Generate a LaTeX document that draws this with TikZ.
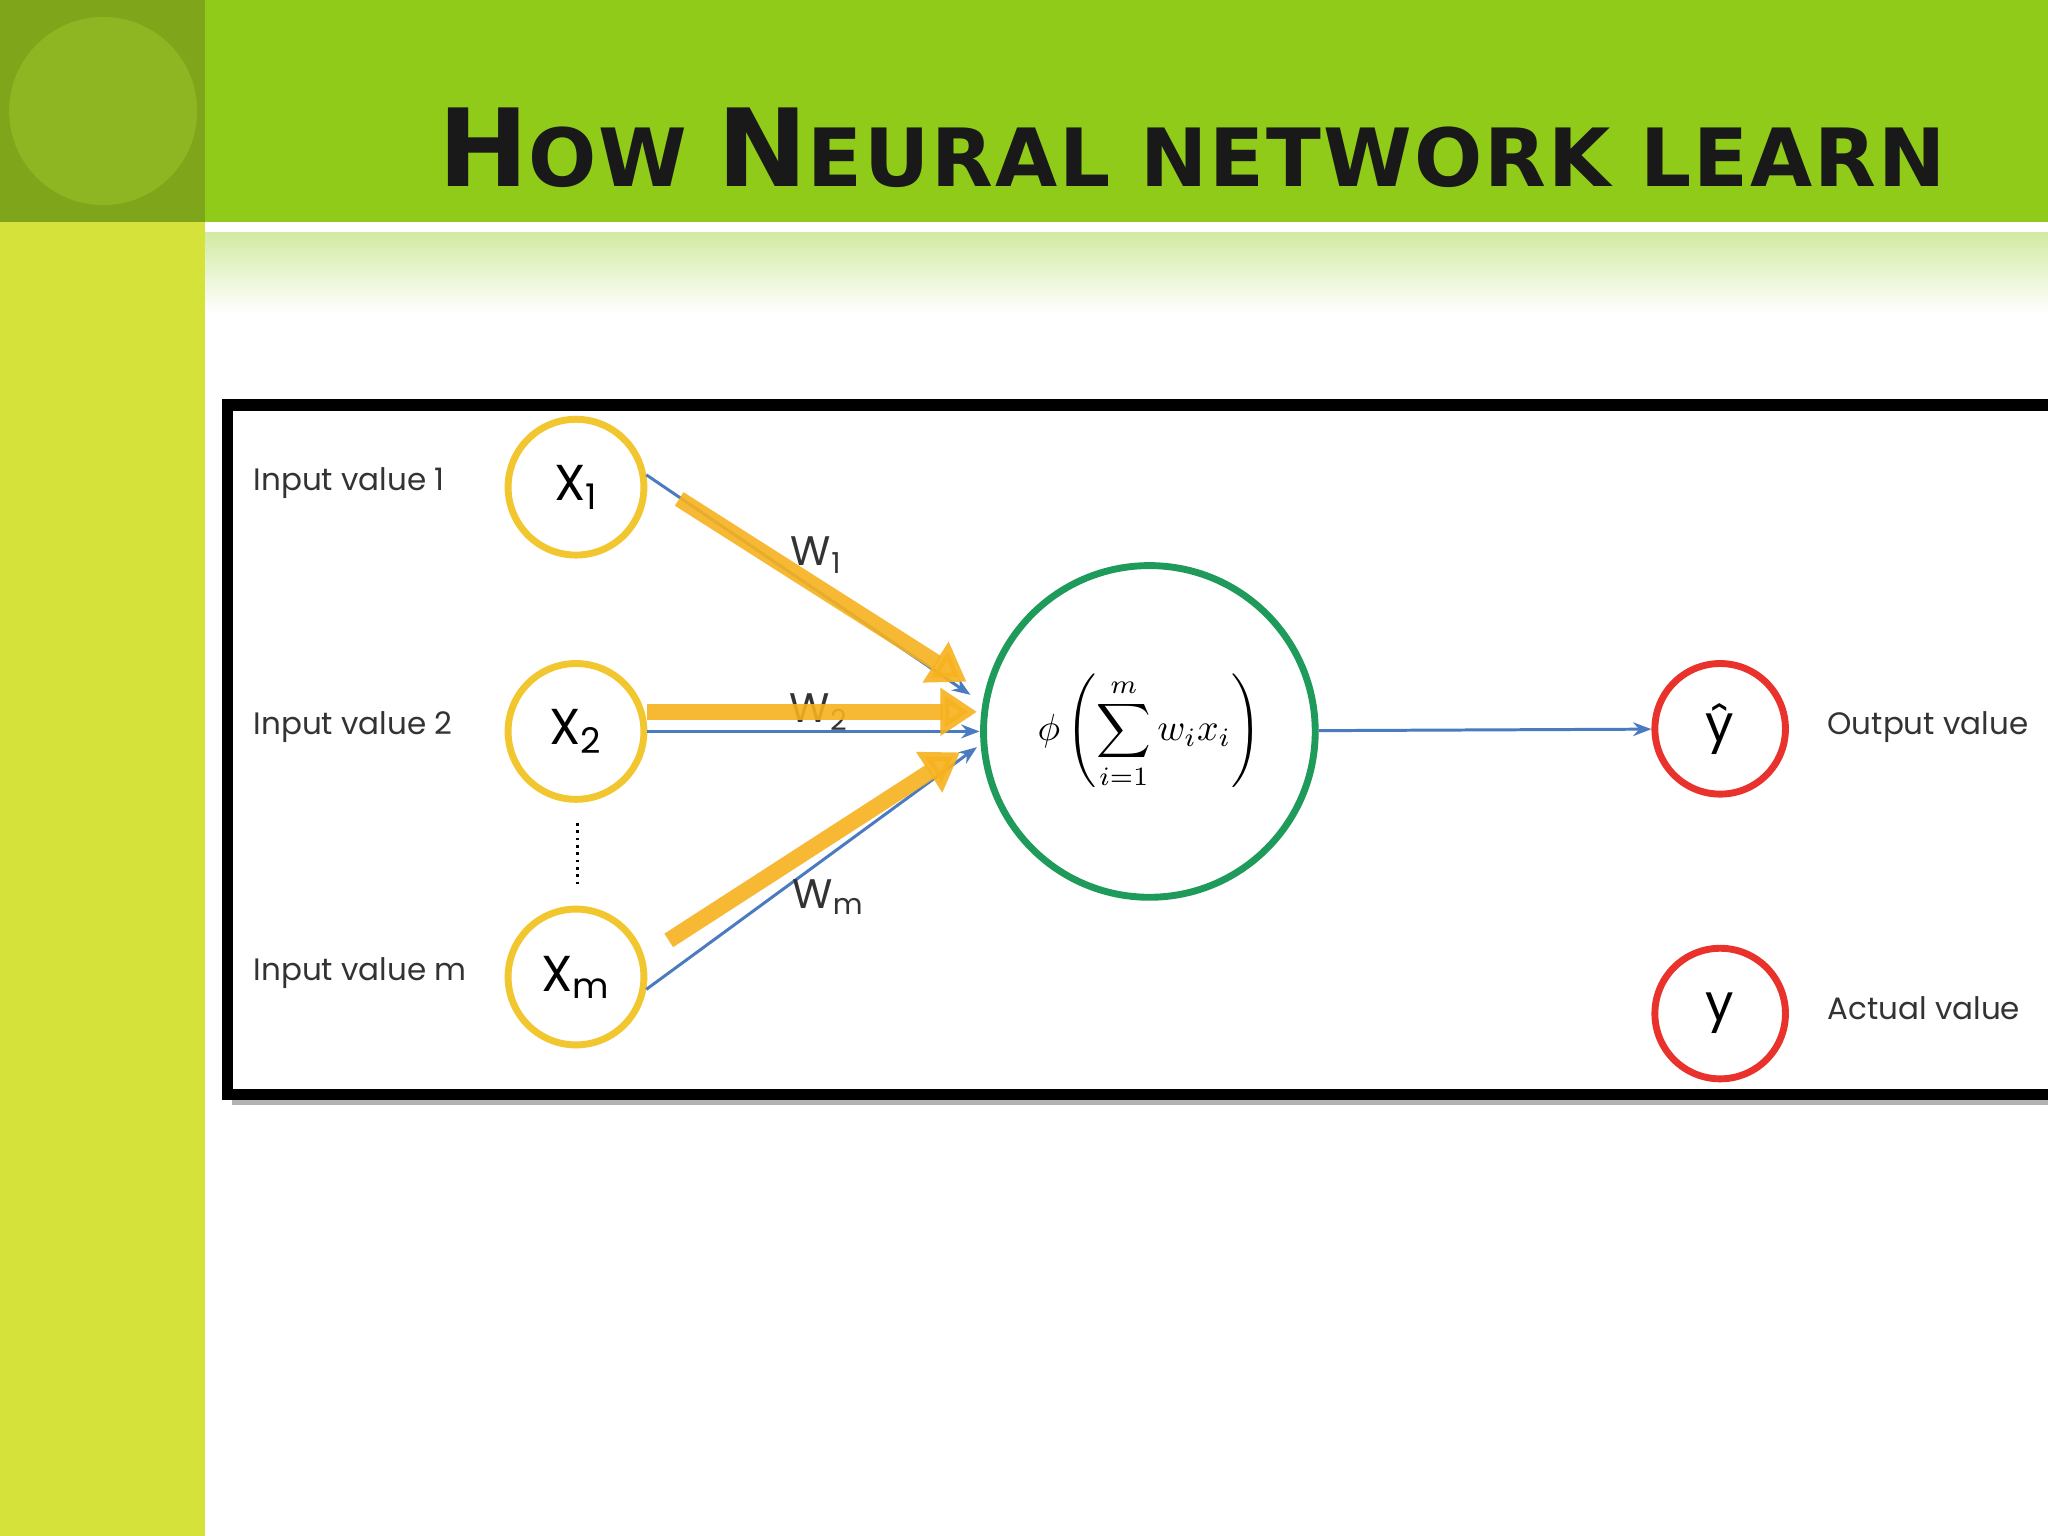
\documentclass[tikz,border=0pt]{standalone}
\usepackage{fontspec}
\setmainfont{Poppins}
\newfontfamily\titlefont{DejaVu Sans}
\usetikzlibrary{arrows.meta}
\definecolor{barL}{HTML}{D4E23A}
\definecolor{topG}{HTML}{8FCB18}
\definecolor{sqG}{HTML}{7FA61A}
\definecolor{circG}{HTML}{8DB622}
\definecolor{inY}{HTML}{F2C62E}
\definecolor{arrO}{HTML}{F7B21E}
\definecolor{lnB}{HTML}{4A7BC0}
\definecolor{grn}{HTML}{1E9A5A}
\definecolor{rd}{HTML}{E8322B}
\begin{document}
\begin{tikzpicture}[x=0.02cm,y=-0.02cm,
  inp/.style={circle,draw=inY,line width=3pt,minimum size=2.08cm,fill=white,font=\fontsize{22}{26}\selectfont},
  outn/.style={circle,draw=rd,line width=3pt,minimum size=2cm,fill=white,font=\fontsize{22}{26}\selectfont},
  lab/.style={anchor=west,font=\fontsize{13.5}{16}\selectfont,text=black!80},
  wl/.style={font=\fontsize{18}{22}\selectfont,text=black!80},
  bl/.style={draw=lnB,line width=1.3pt,-{Stealth[length=8pt]}},
  og/.style={draw=arrO,line width=7pt,-{Triangle[length=16pt,width=20pt]},opacity=0.9}]
\useasboundingbox (0,0) rectangle (1568,1176);
\clip (0,0) rectangle (1568,1176);
\fill[white] (0,0) rectangle (1568,1176);
\fill[barL] (0,0) rectangle (157,1176);
\fill[sqG] (0,0) rectangle (157,170);
\fill[circG] (79,85) circle (72);
\fill[topG] (157,0) rectangle (1568,170);
\shade[top color=topG!40,bottom color=white] (157,178) rectangle (1568,240);
\node[anchor=base west,inner sep=0,text=black!90] (title) at (335,143)
 {\titlefont\bfseries\addfontfeatures{LetterSpace=2.5}\fontsize{47}{56}\selectfont H\fontsize{35}{42}\selectfont OW \fontsize{47}{56}\selectfont N\fontsize{35}{42}\selectfont EURAL NETWORK LEARN};
% frame
\fill[black!30] (178,316) rectangle (1600,846);
\draw[line width=5pt,fill=white] (174,310) rectangle (1600,838);
% nodes
\node[inp] (x1) at (441,373) {X\textsubscript{1}};
\node[inp] (x2) at (441,560) {X\textsubscript{2}};
\node[inp] (xm) at (441,748) {X\textsubscript{m}};
\node[circle,draw=grn,line width=3pt,minimum size=5.08cm] (s) at (880,560)
 {\scalebox{1.65}{$\displaystyle\phi\left(\sum_{i=1}^{m} w_i x_i\right)$}};
\node[outn] (yh) at (1317,558) {ŷ};
\node[outn] (y) at (1317,776) {y};
\node[lab] (l1) at (188,370) {Input value 1};
\node[lab] (l2) at (188,557) {Input value 2};
\node[lab] (l3) at (188,745) {Input value m};
\node[lab] (o1) at (1393,557) {Output value};
\node[lab] (o2) at (1393,772) {Actual value};
\coordinate (d1) at (442,630); \coordinate (d2) at (442,680);
\draw[dotted,line width=1.2pt] (d1) -- (d2);
% connectors
\coordinate (e1) at (743,532); \coordinate (e2) at (750,560); \coordinate (e3) at (748,572);
\draw[bl] (x1.10) -- (e1);
\draw[bl] (x2) -- (e2);
\draw[bl] (xm.-10) -- (e3);
\draw[bl] (s) -- (yh);
\coordinate (a1s) at (520,382); \coordinate (a1e) at (740,522);
\coordinate (a2s) at (495,545); \coordinate (a2e) at (748,545);
\coordinate (a3s) at (512,720); \coordinate (a3e) at (735,576);
\draw[og] (a1s) -- (a1e);
\node[wl] (w2) at (627,545) {W\textsubscript{2}};
\draw[og] (a2s) -- (a2e);
\draw[og] (a3s) -- (a3e);
\node[wl] (w1) at (625,425) {W\textsubscript{1}};
\node[wl] (wm) at (634,687) {W\textsubscript{m}};
\end{tikzpicture}
\end{document}
